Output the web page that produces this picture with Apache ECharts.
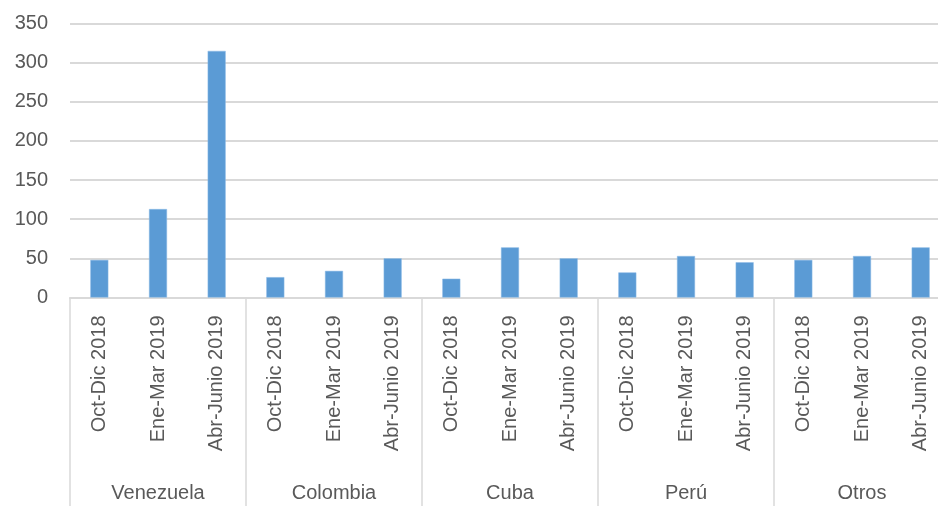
<!DOCTYPE html>
<html>
<head>
<meta charset="utf-8">
<script src="https://cdn.jsdelivr.net/npm/echarts@6/dist/echarts.min.js"></script>
<style>
  html, body { margin: 0; padding: 0; background: #fff; overflow: hidden; }
  /* a bit wider than the window: the original is cropped on the right */
  #chart { width: 950px; height: 506px; }
</style>
</head>
<body>
<div id="chart"></div>
<script>
// data
const groups = ['Venezuela', 'Colombia', 'Cuba', 'Perú', 'Otros']
const periods = ['Oct-Dic 2018', 'Ene-Mar 2019', 'Abr-Junio 2019']
const venezuela = [48, 113, 315]
const colombia = [26, 34, 50]
const cuba = [24, 64, 50]
const peru = [32, 53, 45]
const otros = [48, 53, 64]
const yTicks = [0, 50, 100, 150, 200, 250, 300, 350]

const categories = []
groups.forEach(() => periods.forEach(p => categories.push(p)))
const values = [].concat(venezuela, colombia, cuba, peru, otros)

const textColor = '#595959'
const lineColor = '#d9d9d9'
const font = 'Liberation Sans'

const chart = echarts.init(document.getElementById('chart'), null, { renderer: 'canvas' })
chart.setOption({
  animation: false,
  grid: { left: 70, top: 23.5, bottom: 208.5, right: 0, containLabel: false },
  xAxis: [
    {
      type: 'category',
      data: categories,
      position: 'bottom',
      axisLine: { lineStyle: { color: lineColor, width: 2 } },
      axisTick: { show: false },
      axisLabel: {
        rotate: 90,
        interval: 0,
        margin: 18,
        color: textColor,
        fontFamily: font,
        fontSize: 20,
      },
    },
    {
      type: 'category',
      data: groups,
      position: 'bottom',
      axisLine: { show: false },
      axisTick: { show: true, length: 210, lineStyle: { color: lineColor, width: 1.5 } },
      axisLabel: {
        interval: 0,
        margin: 186,
        color: textColor,
        fontFamily: font,
        fontSize: 20,
      },
    },
  ],
  yAxis: {
    type: 'value',
    min: yTicks[0],
    max: yTicks[yTicks.length - 1],
    interval: 50,
    axisLine: { show: false },
    axisTick: { show: false },
    splitLine: { lineStyle: { color: lineColor, width: 2 } },
    axisLabel: {
      margin: 22,
      color: textColor,
      fontFamily: font,
      fontSize: 20,
    },
  },
  series: [{
    type: 'bar',
    xAxisIndex: 0,
    data: values,
    barWidth: 18,
    itemStyle: { color: '#5b9bd5', borderColor: '#8dbbe6', borderWidth: 0.5 },
  }],
})
</script>
</body>
</html>
